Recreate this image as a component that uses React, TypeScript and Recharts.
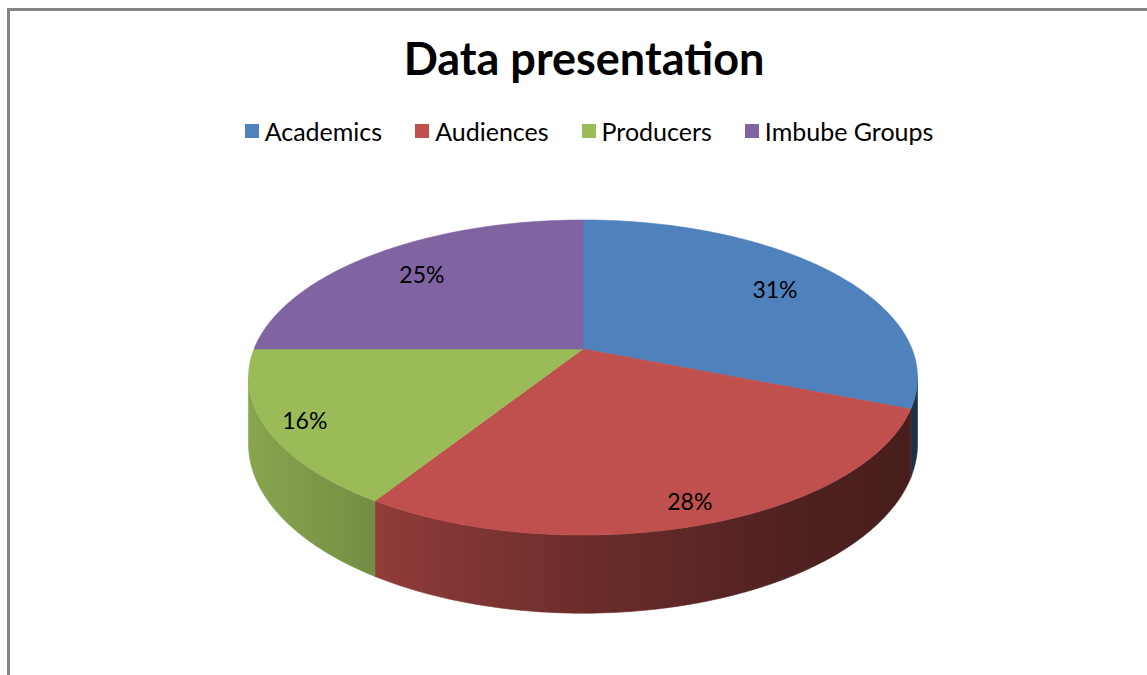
import React from 'react';
import { PieChart, Pie, Cell, Legend } from 'recharts';

// ---- data ----
const categories = ['Academics', 'Audiences', 'Producers', 'Imbube Groups'];
const shares = [31, 28, 16, 25];
const colors = ['#4F81BD', '#C0504D', '#9BBB59', '#8064A2'];
const chartTitle = 'Data presentation';

const data = categories.map((name, i) => ({ name, value: shares[i] }));

// ---- layout / style constants ----
const W = 1140;
const H = 667;
const CX = 576;
const CY = 341;
const R = 329;
const TILT = 0.4632;
const PERSP = 0.181;
const DEPTH = 64;
const FONT = 'Lato, "Open Sans", sans-serif';

const FRONT_L = (Math.acos(-PERSP) * 180) / Math.PI; // ~100.4
const FRONT_R = 360 - FRONT_L; // ~259.6

function project(cx: number, cy: number, rad: number, frac: number, theta: number, drop = 0) {
  const t = (theta * Math.PI) / 180;
  const u = frac * Math.sin(t);
  const v = -frac * Math.cos(t);
  const d = 1 - PERSP * v;
  return [cx + (rad * u) / d, cy + (rad * TILT * v) / d + (drop * DEPTH) / d];
}

function shade(hex: string, f: number) {
  const n = parseInt(hex.slice(1), 16);
  const r = Math.round(((n >> 16) & 255) * f);
  const g = Math.round(((n >> 8) & 255) * f);
  const b = Math.round((n & 255) * f);
  return `rgb(${r},${g},${b})`;
}

function arcPoints(cx: number, cy: number, rad: number, a: number, b: number, drop: number) {
  const pts: number[][] = [];
  const steps = Math.max(2, Math.ceil(Math.abs(b - a) / 0.5));
  for (let i = 0; i <= steps; i++) {
    const th = a + ((b - a) * i) / steps;
    pts.push(project(cx, cy, rad, 1, th, drop));
  }
  return pts;
}

const SliceShape = (props: any) => {
  const { cx, cy, outerRadius, startAngle, endAngle, fill } = props;
  const t1 = 90 - startAngle;
  const t2 = 90 - endAngle;
  const top = arcPoints(cx, cy, outerRadius, t1, t2, 0);
  const topPath =
    `M${cx},${cy} ` + top.map((p) => `L${p[0].toFixed(2)},${p[1].toFixed(2)}`).join(' ') + ' Z';
  const a = Math.max(t1, FRONT_L);
  const b = Math.min(t2, FRONT_R);
  const gid = `side-${String(fill).replace(/[^a-zA-Z0-9]/g, '')}`;
  let sidePath = '';
  if (a < b) {
    const upper = arcPoints(cx, cy, outerRadius, a, b, 0);
    const lower = arcPoints(cx, cy, outerRadius, b, a, 1);
    sidePath =
      'M' +
      upper.map((p) => `${p[0].toFixed(2)},${p[1].toFixed(2)}`).join(' L') +
      ' L' +
      lower.map((p) => `${p[0].toFixed(2)},${p[1].toFixed(2)}`).join(' L') +
      ' Z';
  }
  return (
    <g>
      <defs>
        <linearGradient
          id={gid}
          gradientUnits="userSpaceOnUse"
          x1={cx - outerRadius * 1.02}
          x2={cx + outerRadius * 1.02}
          y1={0}
          y2={0}
        >
          <stop offset="0" stopColor={shade(fill, 0.88)} />
          <stop offset="0.18" stopColor={shade(fill, 0.76)} />
          <stop offset="0.49" stopColor={shade(fill, 0.56)} />
          <stop offset="0.82" stopColor={shade(fill, 0.41)} />
          <stop offset="1" stopColor={shade(fill, 0.37)} />
        </linearGradient>
      </defs>
      {sidePath && <path d={sidePath} fill={`url(#${gid})`} stroke={`url(#${gid})`} strokeWidth={0.6} />}
      <path d={topPath} fill={fill} stroke={fill} strokeWidth={0.6} />
    </g>
  );
};

const renderLabel = (props: any) => {
  const { cx, cy, midAngle, outerRadius, percent } = props;
  const th = 90 - midAngle;
  const v = -Math.cos((th * Math.PI) / 180);
  const frac = v > 0 ? 0.89 : 0.76;
  const [x, y] = project(cx, cy, outerRadius, frac, th, 0);
  return (
    <text
      x={x}
      y={y}
      textAnchor="middle"
      dominantBaseline="central"
      fill="#000"
      style={{ fontFamily: FONT, fontSize: 23 }}
    >
      {`${Math.round(percent * 100)}%`}
    </text>
  );
};

const renderLegend = (props: any) => {
  const raw = props.payload || [];
  const payload = [...raw].sort(
    (p: any, q: any) => categories.indexOf(p.value) - categories.indexOf(q.value)
  );
  return (
    <div
      style={{
        display: 'flex',
        justifyContent: 'center',
        alignItems: 'center',
        fontFamily: FONT,
        fontSize: 25,
        color: '#000',
        lineHeight: '28px',
      }}
    >
      {payload.map((e: any, i: number) => (
        <div
          key={`lg-${i}`}
          style={{ display: 'flex', alignItems: 'center', marginRight: i < payload.length - 1 ? 33 : 0 }}
        >
          <span style={{ display: 'inline-block', width: 14, height: 14, background: e.color, marginRight: 6 }} />
          <span>{e.value}</span>
        </div>
      ))}
    </div>
  );
};

export default function App() {
  return (
    <div
      style={{
        position: 'absolute',
        left: 7,
        top: 8,
        width: W,
        height: H,
        overflow: 'hidden',
        boxSizing: 'border-box',
        background: '#fff',
      }}
    >
      <div
        style={{
          position: 'absolute',
          left: 0,
          top: 0,
          width: W + 20,
          height: H + 20,
          borderTop: '3px solid #858585',
          borderLeft: '3px solid #858585',
          boxSizing: 'border-box',
        }}
      />
      <div
        style={{
          position: 'absolute',
          left: 0,
          top: 28,
          width: W + 14,
          textAlign: 'center',
          fontFamily: FONT,
          fontWeight: 700,
          fontSize: 45,
          lineHeight: 1,
          color: '#000',
        }}
      >
        {chartTitle}
      </div>
      <div style={{ position: 'absolute', left: 0, top: 0 }}>
        <PieChart width={W} height={H} margin={{ top: 0, right: 0, bottom: 0, left: 0 }}>
          <Pie
            data={data}
            dataKey="value"
            nameKey="name"
            cx={CX}
            cy={CY}
            outerRadius={R}
            startAngle={90}
            endAngle={-270}
            stroke="none"
            isAnimationActive={false}
            labelLine={false}
            label={renderLabel}
            shape={SliceShape}
            activeShape={SliceShape}
            inactiveShape={SliceShape}
          >
            {data.map((d, i) => (
              <Cell key={`c-${i}`} fill={colors[i]} />
            ))}
          </Pie>
          <Legend
            verticalAlign="middle"
            align="center"
            itemSorter={null as any}
            content={renderLegend}
            wrapperStyle={{ top: 109, left: 12, width: W }}
          />
        </PieChart>
      </div>
    </div>
  );
}
